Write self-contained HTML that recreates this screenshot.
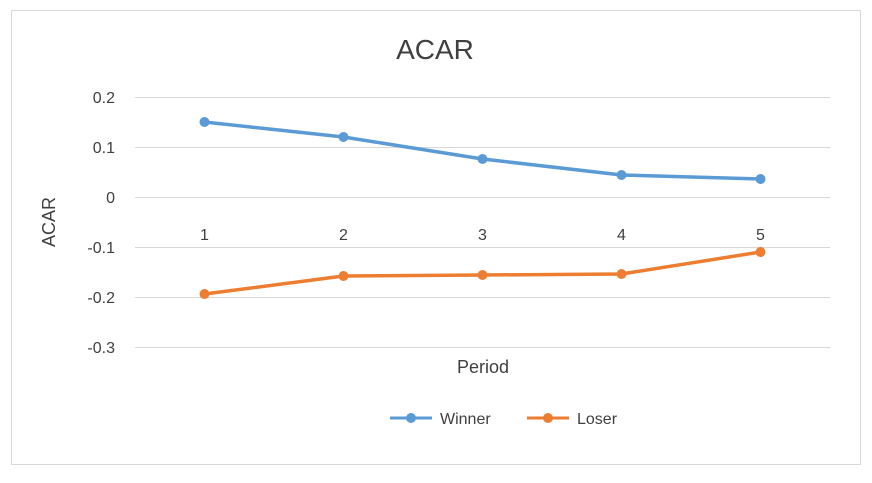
<!DOCTYPE html>
<html><head><meta charset="utf-8"><style>
body{margin:0;background:#fff;}
svg text{font-family:"Liberation Sans",sans-serif;fill:#404040;}
</style></head><body>
<svg id="chart" width="872" height="478" xmlns="http://www.w3.org/2000/svg">
<rect x="11.5" y="10.5" width="849" height="454" fill="#fff" stroke="#d9d9d9"/>
<text x="435" y="59" font-size="28" text-anchor="middle" fill="#404040">ACAR</text>
<text transform="translate(55,222) rotate(-90)" font-size="18" text-anchor="middle">ACAR</text>
<text x="483" y="373" font-size="18" text-anchor="middle">Period</text>
<g id="grid"></g><g id="series"></g>
<g>
<line x1="390" y1="418" x2="432" y2="418" stroke="#5b9bd5" stroke-width="3"/><circle cx="411" cy="418" r="5" fill="#5b9bd5"/>
<text x="440" y="424" font-size="16">Winner</text>
<line x1="527" y1="418" x2="569" y2="418" stroke="#ed7d31" stroke-width="3"/><circle cx="548" cy="418" r="5" fill="#ed7d31"/>
<text x="577" y="424" font-size="16">Loser</text>
</g>
</svg>
<script>
const categories=["1","2","3","4","5"];
const winner=[0.15,0.12,0.076,0.044,0.036];
const loser=[-0.194,-0.158,-0.156,-0.154,-0.11];
const yTicks=[0.2,0.1,0,-0.1,-0.2,-0.3];
const tickLabels=["0.2","0.1","0","-0.1","-0.2","-0.3"];
const NS="http://www.w3.org/2000/svg";
const x0=135,x1=830,y=v=>197-v*500;
const xs=i=>x0+(x1-x0)*(i+0.5)/categories.length;
function mk(t,a,p){const e=document.createElementNS(NS,t);for(const k in a)e.setAttribute(k,a[k]);p.appendChild(e);return e;}
const g=document.getElementById('grid'),s=document.getElementById('series');
yTicks.forEach((v,i)=>{
const l=mk('line',{x1:x0,x2:x1,y1:y(v)+0.5,y2:y(v)+0.5,stroke:'#d9d9d9'},g);


const t=mk('text',{x:115,y:y(v)+6,'font-size':16,'text-anchor':'end'},g);t.textContent=tickLabels[i];


});
categories.forEach((c,i)=>{
const t=mk('text',{x:xs(i),y:y(0)+43,'font-size':16,'text-anchor':'middle'},g);t.textContent=c;


});
[[winner,'#5b9bd5','winner'],[loser,'#ed7d31','loser']].forEach(([d,c,n])=>{
const p=mk('polyline',{points:d.map((v,i)=>xs(i)+','+y(v)).join(' '),fill:'none',stroke:c,'stroke-width':3.5,'stroke-linejoin':'round'},s);


d.forEach((v,i)=>{const m=mk('circle',{cx:xs(i),cy:y(v),r:5,fill:c},s);

});
});
</script>
</body></html>
